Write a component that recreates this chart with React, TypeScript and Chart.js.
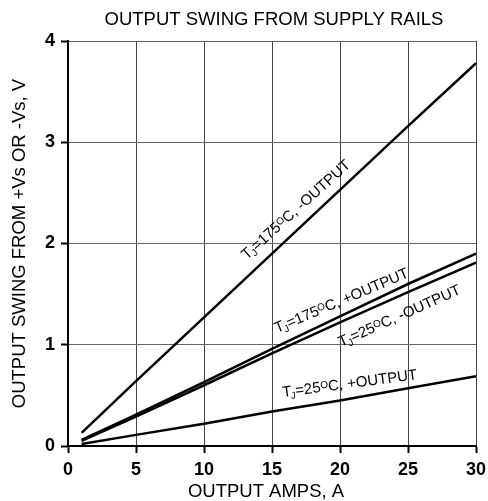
import React, { useEffect, useRef } from 'react';
import { Chart, registerables } from 'chart.js';

Chart.register(...registerables);

// ---- data ----
const xValues = [1, 5, 10, 15, 20, 25, 30];
const tj175Neg = [0.13, 0.64, 1.27, 1.9, 2.53, 3.16, 3.78];
const tj175Pos = [0.06, 0.31, 0.63, 0.96, 1.28, 1.6, 1.9];
const tj25Neg = [0.05, 0.29, 0.6, 0.915, 1.22, 1.52, 1.81];
const tj25Pos = [0.02, 0.11, 0.22, 0.34, 0.45, 0.57, 0.69];

const xTickValues = [0, 5, 10, 15, 20, 25, 30];
const yTickValues = [0, 1, 2, 3, 4];

const chartTitle = 'OUTPUT SWING FROM SUPPLY RAILS';
const xAxisTitle = 'OUTPUT AMPS, A';
const yAxisTitle = 'OUTPUT SWING FROM +Vs OR -Vs, V';

// curve labels (order matches series)
const curveTemps = ['175', '175', '25', '25'];
const curveOutputs = ['-OUTPUT', '+OUTPUT', '-OUTPUT', '+OUTPUT'];
const labelAnchorX = [13.15, 15.36, 20.07, 15.8];
const labelAnchorY = [1.836, 1.115, 0.977, 0.484];
const labelAngles = [42, 23, 24, 7.5];

const FONT = '"Liberation Sans", Arial, Helvetica, sans-serif';

const textPlugin = {
  id: 'texts',
  afterDraw(chart: any) {
    const { ctx, chartArea, scales } = chart;
    const xs = scales.x;
    const ys = scales.y;
    ctx.save();
    ctx.fillStyle = '#000';
    // chart title
    ctx.font = `18.5px ${FONT}`;
    ctx.textAlign = 'center';
    ctx.textBaseline = 'alphabetic';
    const cx = (chartArea.left + chartArea.right) / 2;
    ctx.fillText(chartTitle, cx + 2, chartArea.top - 16.5);
    // x-axis title
    ctx.fillText(xAxisTitle, cx - 6, chartArea.bottom + 51);
    // y-axis title
    ctx.save();
    ctx.translate(25, (chartArea.top + chartArea.bottom) / 2);
    ctx.rotate(-Math.PI / 2);
    ctx.fillText(yAxisTitle, 0, 0);
    ctx.restore();

    // curve labels
    ctx.textAlign = 'left';
    for (let i = 0; i < curveTemps.length; i++) {
      const px = xs.getPixelForValue(labelAnchorX[i]);
      const py = ys.getPixelForValue(labelAnchorY[i]);
      ctx.save();
      ctx.translate(px, py);
      ctx.rotate((-labelAngles[i] * Math.PI) / 180);
      let x = 0;
      const big = `15px ${FONT}`;
      const small = `10px ${FONT}`;
      ctx.font = big;
      ctx.fillText('T', x, 0);
      x += ctx.measureText('T').width - 1;
      ctx.font = small;
      ctx.fillText('J', x, 3);
      x += ctx.measureText('J').width;
      ctx.font = big;
      const mid = '=' + curveTemps[i];
      ctx.fillText(mid, x, 0);
      x += ctx.measureText(mid).width;
      ctx.font = small;
      ctx.fillText('O', x, -3.5);
      x += ctx.measureText('O').width;
      ctx.font = big;
      ctx.fillText('C, ' + curveOutputs[i], x, 0);
      ctx.restore();
    }
    ctx.restore();
  },
};

export default function App() {
  const canvasRef = useRef<HTMLCanvasElement | null>(null);

  useEffect(() => {
    if (!canvasRef.current) return;
    const mk = (vals: number[]) => xValues.map((x, i) => ({ x, y: vals[i] }));
    const ds = (vals: number[]) => ({
      data: mk(vals),
      borderColor: '#000',
      borderWidth: 2.5,
      pointRadius: 0,
      tension: 0,
      fill: false,
    });
    const chart = new Chart(canvasRef.current, {
      type: 'line',
      data: {
        datasets: [ds(tj175Neg), ds(tj175Pos), ds(tj25Neg), ds(tj25Pos)],
      },
      options: {
        animation: false,
        responsive: true,
        maintainAspectRatio: false,
        layout: { padding: { left: 0, right: 12, top: 41, bottom: 0 } },
        plugins: {
          legend: { display: false },
          title: { display: false },
          tooltip: { enabled: false },
        },
        scales: {
          x: {
            type: 'linear',
            min: 0,
            max: 30,
            afterBuildTicks: (s: any) => {
              s.ticks = xTickValues.map((v) => ({ value: v }));
            },
            afterFit: (s: any) => {
              s.height = 55;
              s.paddingLeft = 0;
              s.paddingRight = 0;
            },
            ticks: {
              color: '#000',
              padding: 6,
              maxRotation: 0,
              font: { family: FONT, size: 18, weight: 'bold' },
            },
            grid: {
              color: '#444',
              lineWidth: 1,
              tickColor: '#000',
              tickLength: 7,
              tickWidth: 2,
            },
            border: { display: true, color: '#000', width: 2 },
          },
          y: {
            type: 'linear',
            min: 0,
            max: 4,
            afterBuildTicks: (s: any) => {
              s.ticks = yTickValues.map((v) => ({ value: v }));
            },
            afterFit: (s: any) => {
              s.width = 68;
              s.paddingTop = 0;
              s.paddingBottom = 0;
            },
            ticks: {
              color: '#000',
              padding: 6,
              font: { family: FONT, size: 18, weight: 'bold' },
            },
            grid: {
              color: '#666',
              lineWidth: 1,
              tickColor: '#000',
              tickLength: 7,
              tickWidth: 2,
            },
            border: { display: true, color: '#000', width: 2 },
          },
        },
      },
      plugins: [textPlugin],
    });
    return () => chart.destroy();
  }, []);

  return (
    <div style={{ position: 'absolute', left: 0, top: 0, width: 488, height: 501, background: '#fff' }}>
      <canvas ref={canvasRef} />
    </div>
  );
}
